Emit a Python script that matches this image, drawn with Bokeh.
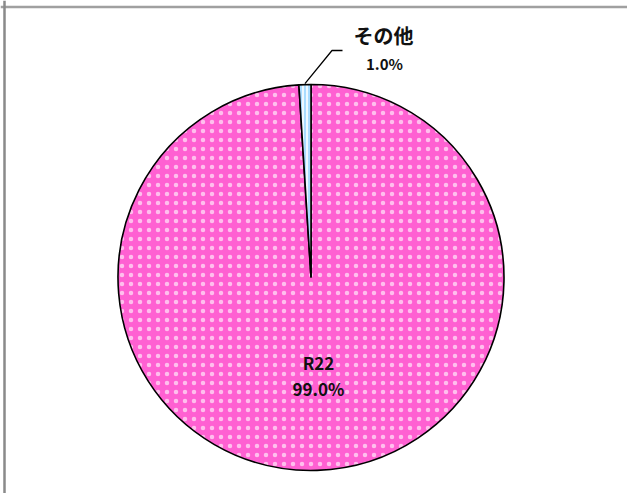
import math
from bokeh.plotting import figure
from bokeh.models import Range1d, Span
from bokeh.core.properties import value
from bokeh.embed import file_html
from bokeh.resources import INLINE

# data
categories = ["R22", "その他"]
shares = [99.0, 1.0]
pct_labels = ["99.0%", "1.0%"]

W, H = 627, 493
p = figure(width=W, height=H, output_backend="svg", toolbar_location=None,
           x_range=Range1d(0, W), y_range=Range1d(0, H), min_border=0,
           outline_line_color=None, background_fill_color="white", title=None)
p.axis.visible = False
p.grid.visible = False

# frame (top and left edges)
p.add_layout(Span(location=H - 6.5, dimension="width", line_color="#a0a0a0", line_width=2.5))
p.add_layout(Span(location=4, dimension="height", line_color="#8a8a8a", line_width=2.5))

cx, cy, r = 310.5, H - 277, 193
total = sum(shares)
other_span = shares[1] / total * 2 * math.pi

# R22
p.wedge(x=cx, y=cy, radius=r, start_angle=math.pi / 2 + other_span,
        end_angle=math.pi / 2 + 2 * math.pi,
        fill_color="#ff60d2", line_color="black", line_width=1.6,
        hatch_pattern="dot", hatch_color="white", hatch_scale=9, hatch_alpha=0.6)
# その他
p.wedge(x=cx, y=cy, radius=r, start_angle=math.pi / 2,
        end_angle=math.pi / 2 + other_span,
        fill_color="#a9dcff", line_color="black", line_width=1.6,
        hatch_pattern="|", hatch_color="white", hatch_scale=4, hatch_weight=1.6)

# leader line for その他
mid = math.pi / 2 + other_span / 2
x0, y0 = cx + r * math.cos(mid), cy + r * math.sin(mid)
p.line([x0, 331.5, 342], [y0 + 1, H - 50, H - 50], line_color="black", line_width=1.3)

font = value("Noto Sans CJK JP")
def lab(x, y, t, size):
    p.text(x=[x], y=[y], text=[t], text_font=font, text_font_size=size,
           text_font_style="bold", text_align="center", text_baseline="middle",
           text_color="#111111")

lab(383, H - 35, categories[1], "20px")
lab(384, H - 63, pct_labels[1], "15px")
lab(318, H - 362, categories[0], "17px")
lab(318, H - 388, pct_labels[0], "17px")

open("out.html", "w").write(file_html(p, INLINE))
